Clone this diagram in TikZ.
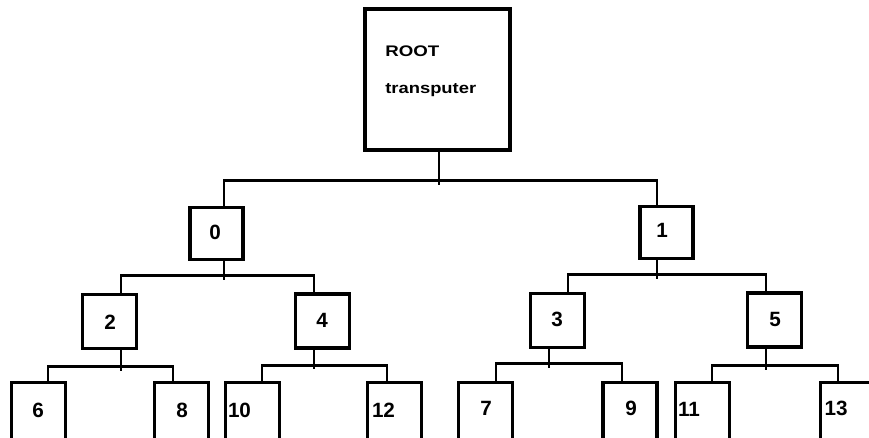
\documentclass[tikz,border=0pt]{standalone}
\usepackage{fontspec}
\usepackage{graphicx}
\setmainfont{Liberation Sans}
\usetikzlibrary{calc}
\begin{document}
\begin{tikzpicture}[x=0.75pt,y=-0.75pt,
  line join=miter,
  wire/.style={line width=2pt,line cap=rect},
  faint/.style={line width=0.8pt},
  cell/.style={draw,line width=2.3pt,rectangle,inner sep=0pt},
  root/.style={cell,line width=2.5pt,minimum width=108.75pt,minimum height=105.75pt},
  upper/.style={cell,minimum width=39.75pt,minimum height=39pt},
  mid/.style={cell,minimum width=40.5pt,minimum height=40.5pt},
  leaf/.style={cell,minimum width=40.5pt,minimum height=52.5pt},
  num/.style={inner sep=0pt,font=\bfseries\fontsize{15.5}{18}\selectfont},
  rtext/.style={inner sep=0pt,anchor=base west,font=\bfseries\fontsize{11.5}{13}\selectfont}]
\useasboundingbox (0,0) rectangle (869,438);
\clip (0,0) rectangle (869,438);

% boxes
\node[root]  (root) at (437.5,79.5) {};
\node[upper] (b0) at (216.5,233.5) {};
\node[upper] (b1) at (666.5,232.5) {};
\node[mid]   (b2) at (109.5,321.5) {};
\node[mid]   (b4) at (322.5,321) {};
\node[mid]   (b3) at (557.5,320.5) {};
\node[mid]   (b5) at (774.5,320) {};
\node[leaf]  (b6)  at (38.5,417.5) {};
\node[leaf]  (b8)  at (181.5,417.5) {};
\node[leaf]  (b10) at (252.5,417.5) {};
\node[leaf]  (b12) at (394.5,417.5) {};
\node[leaf]  (b7)  at (485.5,417.5) {};
\node[leaf]  (b9)  at (630,417.5) {};
\node[leaf]  (b11) at (702.5,417.5) {};
\node[leaf]  (b13) at (847.5,417.5) {};

% labels
\node[rtext] (rootA) at (385,57) {\scalebox{1.22}[1]{ROOT}};
\node[rtext] (rootB) at (385,94) {\scalebox{1.2}[1]{transputer}};
\node[num] (t0) at (215,232) {0};
\node[num] (t1) at (662,230) {1};
\node[num] (t2) at (110,322) {2};
\node[num] (t4) at (322,320) {4};
\node[num] (t3) at (557,319.5) {3};
\node[num] (t5) at (775,319.5) {5};
\node[num] (t6) at (38,410) {6};
\node[num] (t8) at (182,410) {8};
\node[num] (t10) at (239.5,410) {10};
\node[num] (t12) at (383.5,410) {12};
\node[num] (t7) at (486,408.5) {7};
\node[num] (t9) at (631,408.5) {9};
\node[num] (t11) at (689,409) {11};
\node[num] (t13) at (836,408.5) {13};

% root -> 0, 1
\draw[wire] ($(root.south)+(1.5,0)$) -- ++(0,32);
\draw[wire] ($(b0.north)+(7.5,0)$) |- ($(b1.north)+(-9.5,-24.5)$) -- ($(b1.north)+(-9.5,0)$);

% 0 -> 2, 4
\draw[wire] ($(b0.south)+(7.5,0)$) -- ++(0,17.5);
\draw[wire] ($(b2.north)+(11.5,0)$) |- ($(b4.north)+(-8.5,-17)$) -- ($(b4.north)+(-8.5,0)$);

% 1 -> 3, 5
\draw[wire] ($(b1.south)+(-9.5,0)$) -- ++(0,17.5);
\draw[wire] ($(b3.north)+(10.5,0)$) |- ($(b5.north)+(-8.5,-17)$) -- ($(b5.north)+(-8.5,0)$);

% 2 -> 6, 8
\draw[wire] ($(b2.south)+(11.5,0)$) -- ++(0,19.5);
\draw[wire] ($(b6.north)+(9.5,0)$) |- ($(b8.north)+(-8.5,-14.5)$) -- ($(b8.north)+(-8.5,0)$);

% 4 -> 10, 12
\draw[faint] ($(b4.south)+(-8.5,0)$) -- ++(0,19);
\draw[wire] ($(b10.north)+(9.5,0)$) |- ($(b12.north)+(-7.5,-15.5)$) -- ($(b12.north)+(-7.5,0)$);

% 3 -> 7, 9
\draw[wire] ($(b3.south)+(-8.5,0)$) -- ++(0,17.5);
\draw[wire] ($(b7.north)+(10.5,0)$) |- ($(b9.north)+(-8,-17.5)$) -- ($(b9.north)+(-8,0)$);

% 5 -> 11, 13
\draw[wire] ($(b5.south)+(-8.5,0)$) -- ++(0,20);
\draw[wire] ($(b11.north)+(9.5,0)$) |- ($(b13.north)+(-9.5,-15.5)$) -- ($(b13.north)+(-9.5,0)$);
\end{tikzpicture}
\end{document}
